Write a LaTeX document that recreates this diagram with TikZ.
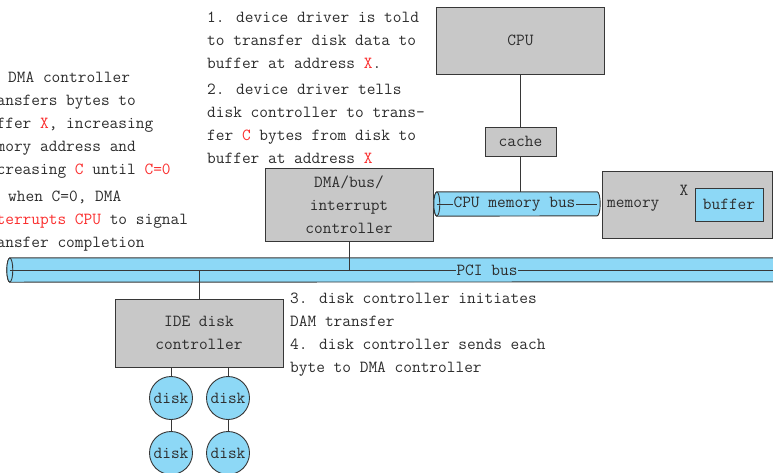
\documentclass[tikz,border=0pt]{standalone}
\usetikzlibrary{calc}
\definecolor{boxgray}{RGB}{200,200,200}
\definecolor{edge}{RGB}{55,55,55}
\definecolor{busblue}{RGB}{141,216,246}
\definecolor{txt}{RGB}{45,45,45}
\definecolor{hlred}{RGB}{250,45,45}
\newcommand{\rd}[1]{\textcolor{hlred}{#1}}
\begin{document}
\begin{tikzpicture}[x=1pt,y=-1pt,
  every node/.style={font=\ttfamily\fontsize{16.9}{23}\selectfont, text=txt},
  graybox/.style={draw=edge, fill=boxgray, line width=0.9pt, inner sep=0, align=center},
  bluebox/.style={draw=edge, fill=busblue, line width=0.9pt, inner sep=0},
  disk/.style={circle, draw=edge, fill=busblue, line width=0.9pt, inner sep=0, minimum size=43pt},
  wire/.style={draw=edge, line width=0.9pt},
  bus/.style={draw=edge, fill=busblue, line width=0.9pt},
  note/.style={anchor=north west, inner sep=0, align=left},
  busbody/.style={inner sep=0},
  buslabel/.style={fill=busblue, inner sep=0.6pt},
]
\useasboundingbox (0,0) rectangle (773,472);
\clip (0,0) rectangle (773,472);

% boxes
\node[graybox, minimum width=168pt, minimum height=67pt] (cpu) at (520.5,40.5) {CPU};
\node[graybox, minimum width=71pt, minimum height=29pt] (cache) at (520.5,141.5) {cache};
\node[graybox, minimum width=170pt, minimum height=67pt] (memory) at (687,204.5) {};
\node[anchor=west, inner sep=0] (memlabel) at (607,205.5) {memory};
\node[inner sep=0] (xlabel) at (684,190) {X};
\node[bluebox, minimum width=68pt, minimum height=33pt] (buffer) at (729,204.5) {buffer};
\node[graybox, minimum width=168pt, minimum height=73pt] (dma) at (349,204.5) {DMA/bus/\\interrupt\\controller};
\node[graybox, minimum width=168pt, minimum height=68pt] (ide) at (199,333) {IDE disk\\controller};

% CPU memory bus
\node[busbody, minimum width=160pt, minimum height=24pt] (membus) at (517,204) {};
\draw[bus] (membus.north west) -- (membus.north east)
  arc[start angle=90, end angle=-90, x radius=3pt, y radius=12pt]
  -- (membus.south west)
  arc[start angle=270, end angle=90, x radius=3pt, y radius=12pt] -- cycle;
\draw[bus] (membus.west) ellipse[x radius=3pt, y radius=12pt];
\draw[wire] (membus.west) -- (membus.east);
\node[buslabel] (membuslabel) at (514.5,204) {CPU memory bus};

% PCI bus
\node[busbody, minimum width=780pt, minimum height=24pt] (pcibus) at (400,270) {};
\draw[bus] (pcibus.north west) -- (pcibus.north east)
  arc[start angle=90, end angle=-90, x radius=3pt, y radius=12pt]
  -- (pcibus.south west)
  arc[start angle=270, end angle=90, x radius=3pt, y radius=12pt] -- cycle;
\draw[bus] (pcibus.west) ellipse[x radius=3pt, y radius=12pt];
\draw[wire] (pcibus.west) -- (pcibus.east);
\node[buslabel] (pcilabel) at (487,270) {PCI bus};

% disks
\node[disk] (d1) at (171,398) {disk};
\node[disk] (d2) at (228,398) {disk};
\node[disk] (d3) at (171,453) {disk};
\node[disk] (d4) at (228,453) {disk};

% connectors
\draw[wire] (cpu.south) -- (cache.north);
\draw[wire] (cache.south) -- (cache.south |- membus.north);
\draw[wire] (dma.south) -- (dma.south |- pcibus.center);
\draw[wire] (ide.north) -- (ide.north |- pcibus.center);
\draw[wire] (ide.south -| d1) -- (d1.north);
\draw[wire] (ide.south -| d2) -- (d2.north);
\draw[wire] (d1) -- (d3);
\draw[wire] (d2) -- (d4);

% notes
\node[note] (step12) at (207,6.4) {\strut 1. device driver is told\\ to transfer disk data to\\ buffer at address \rd{X}.\\[3pt] 2. device driver tells\\ disk controller to trans-\\ fer \rd{C} bytes from disk to\\ buffer at address \rd{X}};
\node[note] (step56) at (-21,66.4) {\strut 5. DMA controller\\ transfers bytes to\\ buffer \rd{X}, increasing\\ memory address and\\ decreasing \rd{C} until \rd{C=0}\\[4pt] 6. when C=0, DMA\\ \rd{interrupts CPU} to signal\\ transfer completion};
\node[note] (step34) at (290,287.4) {\strut 3. disk controller initiates\\ DAM transfer\\ 4. disk controller sends each\\ byte to DMA controller};
\end{tikzpicture}
\end{document}
